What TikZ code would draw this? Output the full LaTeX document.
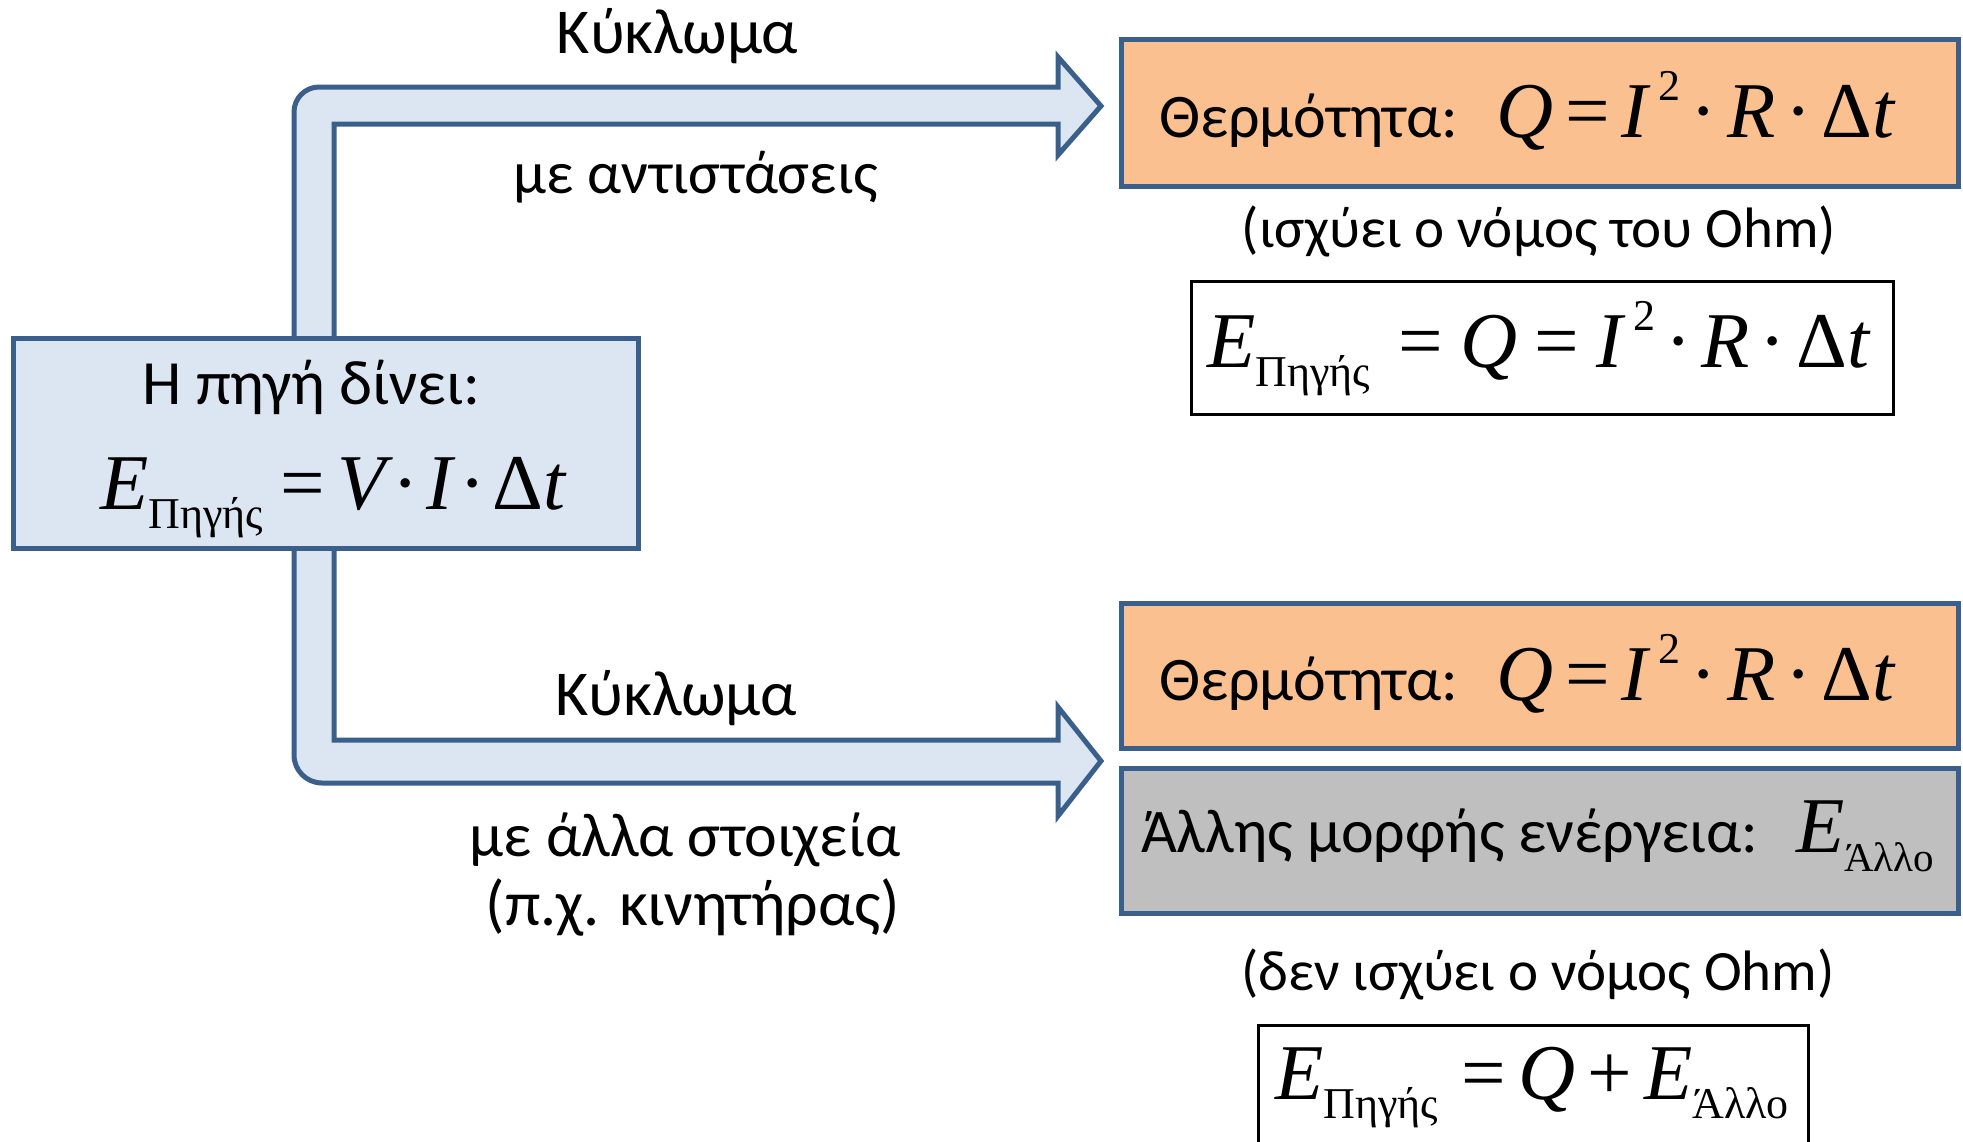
\documentclass[tikz,border=0pt]{standalone}
\usepackage{fontspec}
\setmainfont{Carlito}
\newfontfamily\tnr{Liberation Serif}
\usetikzlibrary{calc}

\definecolor{edgeblue}{HTML}{3A5F8B}
\definecolor{fillblue}{HTML}{DCE6F2}
\definecolor{fillorange}{HTML}{FAC090}
\definecolor{fillgray}{HTML}{BFBFBF}

% pieces of the formulas (Times-like italic letters)
\newcommand\mv[1]{{\tnr\itshape #1}}
\newcommand\lowsub[1]{\raisebox{-19pt}{\fontsize{44}{44}\selectfont\tnr #1}\hspace{12pt}}
\newcommand\highsup[1]{\hspace{11pt}\raisebox{37pt}{\fontsize{44}{44}\selectfont\tnr #1}}
\newcommand\rel[2][12pt]{\hspace{#1}{\tnr #2}\hspace{#1}}
\newcommand\cdt[1][10pt]{\hspace{#1}{\tnr ·}\hspace{#1}}

\tikzset{
  every node/.style={inner sep=0pt, outer sep=0pt},
  lbl/.style={font=\fontsize{#1}{#1}\selectfont, anchor=base},
  lbl/.default=60,
  lblw/.style={font=\fontsize{#1}{#1}\selectfont, anchor=base west},
  lblw/.default=62,
  frm/.style={font=\fontsize{79}{80}\selectfont\tnr, anchor=base west},
  srcbox/.style={draw=edgeblue, fill=fillblue, line width=5pt},
  heatbox/.style={draw=edgeblue, fill=fillorange, line width=5pt},
  otherbox/.style={draw=edgeblue, fill=fillgray, line width=5pt},
  eqbox/.style={draw=black, line width=3pt},
  bentarrow/.style={draw=edgeblue, fill=fillblue, line width=5pt},
}

\begin{document}
\begin{tikzpicture}[x=1pt, y=-1pt]
\useasboundingbox (0,0) rectangle (1963,1141);

% target boxes
\node[heatbox, minimum width=837pt, minimum height=147pt] (heat1) at (1539.5,112.5) {};
\node[heatbox, minimum width=837pt, minimum height=145pt] (heat2) at (1539.5,675.5) {};
\node[otherbox, minimum width=837pt, minimum height=145pt] (other) at (1539.5,840.5) {};
\node[eqbox, minimum width=702pt, minimum height=133pt] (eq1) at (1542,347.5) {};
\node[eqbox, minimum width=550pt, minimum height=145pt] (eq2) at (1533,1097.5) {};

% bent block arrows leaving the source box
\coordinate (tip1) at ($(heat1.west)+(-20,-6.5)$);
\coordinate (tip2) at ($(heat2.west)+(-20,85.5)$);
\draw[bentarrow] (294,345) [rounded corners=25pt] -- (294,87) -- (500,87) [sharp corners]
  -- (1058,87) -- (1058,57) -- (tip1) -- (1058,155) -- (1058,124) -- (334,124) -- (334,345) -- cycle;
\draw[bentarrow] (294,540) [rounded corners=28pt] -- (294,783) -- (500,783) [sharp corners]
  -- (1058,783) -- (1058,816) -- (tip2) -- (1058,707) -- (1058,740) -- (334,740) -- (334,540) -- cycle;

% source box
\node[srcbox, minimum width=625pt, minimum height=210pt] (src) at (326,443.5) {};
\node[lbl=63] (srctext) at (311.5,404) {Η πηγή δίνει:};
\node[frm] (srcfrm) at (100,509) {\mv{E}\lowsub{Πηγής}\hspace{-6pt}\rel{=}\mv{V}\cdt[7pt]\mv{I}\cdt[7pt]Δ\mv{t}};

% arrow labels
\node[lbl=64] (k1) at (677.5,53.6) {Κύκλωμα};
\node[lbl=60] (r1) at (696,193) {με αντιστάσεις};
\node[lbl=64] (k2) at (676,715) {Κύκλωμα};
\node[lbl=62] (r2) at (685,856) {με άλλα στοιχεία};
\node[lbl=64] (r3) at (693,925) {(π.χ. κινητήρας)};

% heat boxes
\node[lblw] (h1t) at (1159,137) {Θερμότητα:};
\node[frm] (h1f) at (1496,137) {\mv{Q}\rel{=}\mv{I}\highsup{2}\cdt\mv{R}\cdt Δ\mv{t}};
\node[lblw] (h2t) at (1159,700) {Θερμότητα:};
\node[frm] (h2f) at (1496,700) {\mv{Q}\rel{=}\mv{I}\highsup{2}\cdt\mv{R}\cdt Δ\mv{t}};

% other energy box
\node[lblw] (ot) at (1141,852) {Άλλης μορφής ενέργεια:};
\node[frm] (of) at (1796,852) {\mv{E}\raisebox{-19pt}{\fontsize{41}{41}\selectfont\tnr Άλλο}};

% remarks and balances
\node[lbl=57] (ohm1) at (1539,247) {(ισχύει ο νόμος του Ohm)};
\node[frm] (e1f) at (1207,367.5) {\mv{E}\lowsub{Πηγής}\rel[17pt]{=}\mv{Q}\rel[17pt]{=}\mv{I}\highsup{2}\cdt\mv{R}\cdt Δ\mv{t}};
\node[lbl=57] (ohm2) at (1538,990) {(δεν ισχύει ο νόμος Ohm)};
\node[frm] (e2f) at (1275,1099) {\mv{E}\lowsub{Πηγής}\rel{=}\mv{Q}\rel{+}\mv{E}\lowsub{Άλλο}};
\end{tikzpicture}
\end{document}
